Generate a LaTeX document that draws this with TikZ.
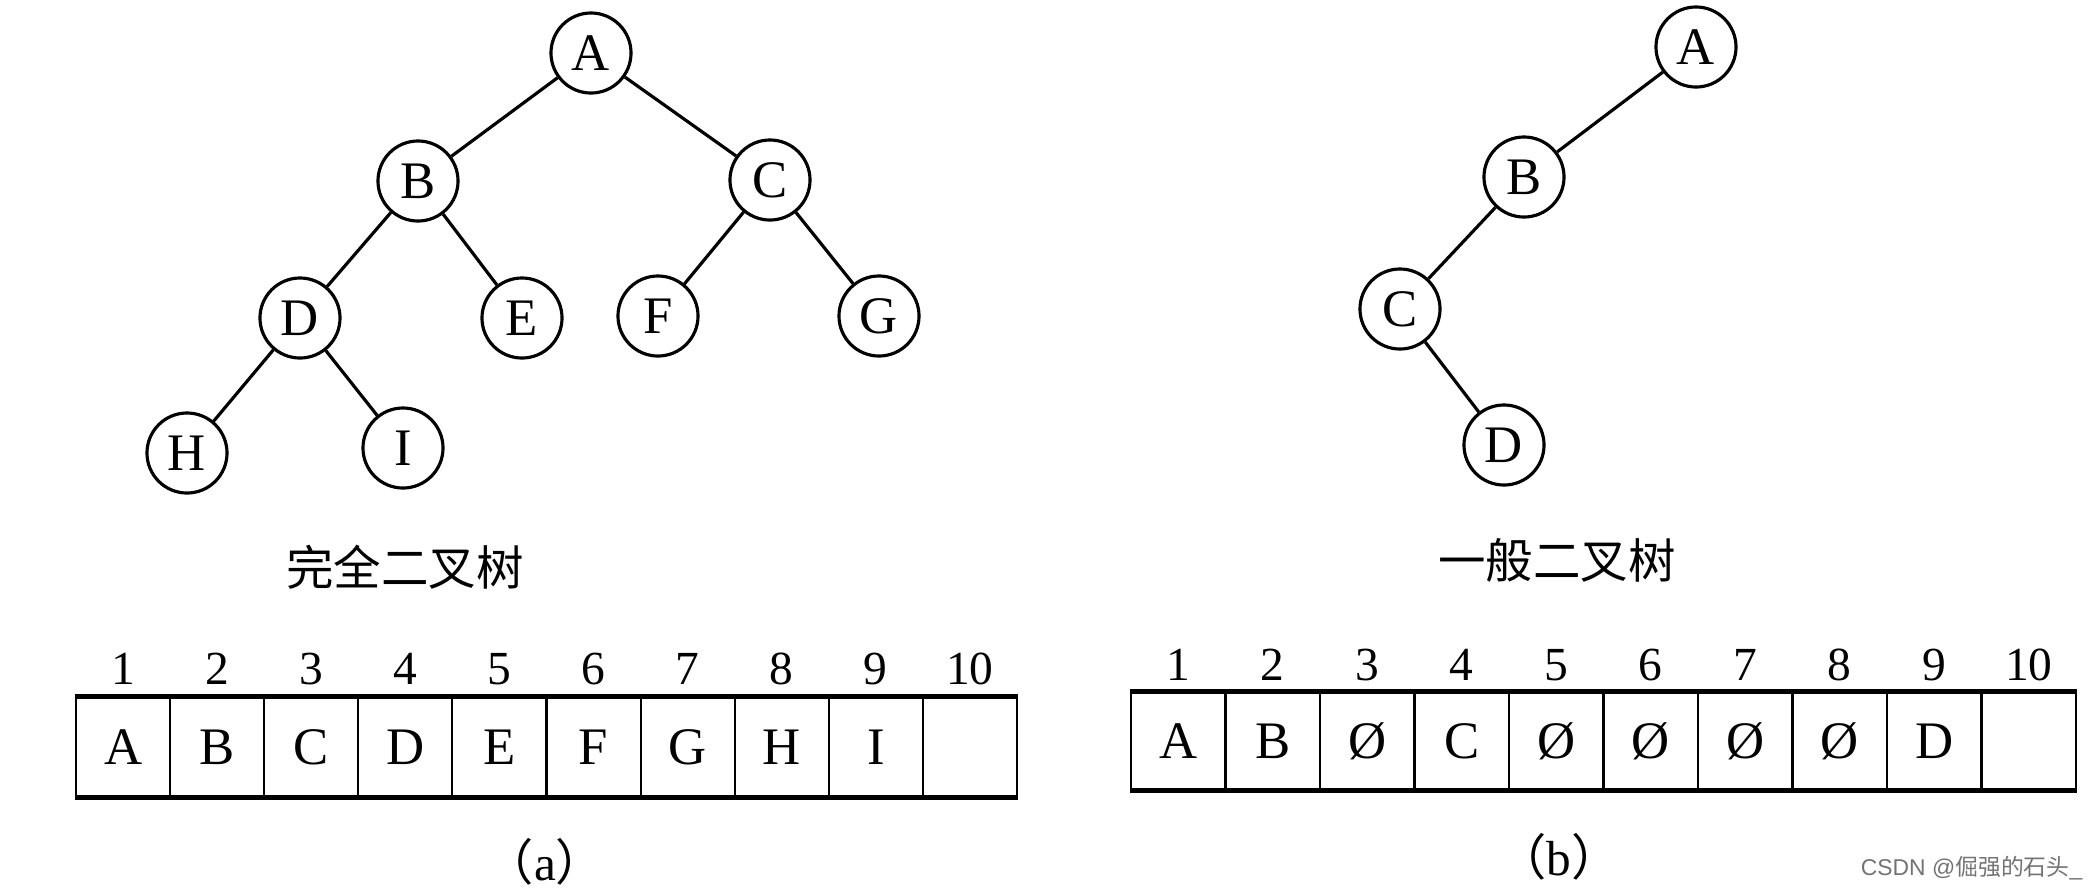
\documentclass[tikz,border=0pt]{standalone}
\usepackage{fontspec}
\setmainfont{Liberation Serif}
\newfontfamily\cjk{Noto Sans CJK SC}
\newfontfamily\wmfont{Liberation Sans}
\begin{document}
\begin{tikzpicture}[x=0.01cm,y=-0.01cm,
  tn/.style={circle,draw,line width=0.9pt,minimum size=0.8cm,inner sep=0pt,font=\fontsize{15}{15}\selectfont},
  edge/.style={line width=0.9pt},
  lcell/.style={draw,line width=0.6pt,minimum width=0.941cm,minimum height=0.98cm,inner sep=0pt,font=\fontsize{15}{15}\selectfont},
  rcell/.style={draw,line width=0.6pt,minimum width=0.945cm,minimum height=0.97cm,inner sep=0pt,font=\fontsize{15}{15}\selectfont},
  idx/.style={font=\fontsize{13.5}{13.5}\selectfont,inner sep=0pt},
  captext/.style={font=\cjk\fontsize{13.5}{13.5}\selectfont,inner sep=0pt},
  sublabel/.style={font=\fontsize{14}{14}\selectfont,inner sep=0pt},
  border/.style={line width=1.4pt}
]
\useasboundingbox (0,0) rectangle (2093,887);
% left tree
\node[tn] (a) at (591,53) {A};
\node[tn] (b) at (418,181) {B};
\node[tn] (c) at (770,180) {C};
\node[tn] (d) at (300,318) {D};
\node[tn] (e) at (522,318) {E};
\node[tn] (f) at (658,316) {F};
\node[tn] (g) at (879,316) {G};
\node[tn] (h) at (187,453) {H};
\node[tn] (i) at (403,448) {I};
\draw[edge] (a) -- (b);
\draw[edge] (a) -- (c);
\draw[edge] (b) -- (d);
\draw[edge] (b) -- (e);
\draw[edge] (c) -- (f);
\draw[edge] (c) -- (g);
\draw[edge] (d) -- (h);
\draw[edge] (d) -- (i);
% right tree
\node[tn] (ra) at (1696,47) {A};
\node[tn] (rb) at (1524,177) {B};
\node[tn] (rc) at (1400,309) {C};
\node[tn] (rd) at (1504,445) {D};
\draw[edge] (ra) -- (rb);
\draw[edge] (rb) -- (rc);
\draw[edge] (rc) -- (rd);
% captions
\node[captext] (lcap) at (405,567) {完全二叉树};
\node[captext] (rcap) at (1557,560) {一般二叉树};
% left array
\foreach \k/\t in {1/A,2/B,3/C,4/D,5/E,6/F,7/G,8/H,9/I,10/{}} {
  \node[lcell] (la\k) at ({76+94.1*(\k-0.5)},747) {\t};
  \node[idx] (ln\k) at ({76+94.1*(\k-0.5)},669) {\k};
}
\draw[border] (la1.north west) -- (la10.north east);
\draw[border] (la1.south west) -- (la10.south east);
% right array
\foreach \k/\t in {1/A,2/B,3/Ø,4/C,5/Ø,6/Ø,7/Ø,8/Ø,9/D,10/{}} {
  \node[rcell] (ra\k) at ({1131+94.5*(\k-0.5)},741) {\t};
  \node[idx] (rn\k) at ({1131+94.5*(\k-0.5)},665) {\k};
}
\draw[border] (ra1.north west) -- (ra10.north east);
\draw[border] (ra1.south west) -- (ra10.south east);
% sub labels
\node[sublabel] (suba) at (545,862) {{\cjk （}a{\cjk ）}};
\node[sublabel] (subb) at (1559,857) {{\cjk （}b{\cjk ）}};
% watermark
\node[inner sep=0pt,anchor=east,text=black!55,font=\fontsize{6.5}{6.5}\selectfont] (wm) at (2083,868) {\wmfont CSDN @{\cjk 倔强的石头}\_};
\end{tikzpicture}
\end{document}
